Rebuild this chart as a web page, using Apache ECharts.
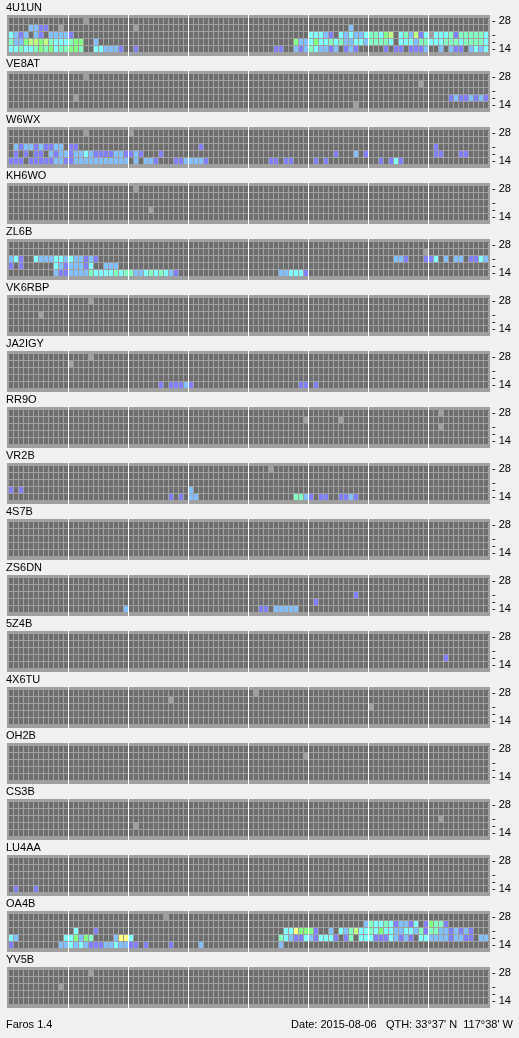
<!DOCTYPE html>
<html>
<head>
<meta charset="utf-8">
<title>Faros 1.4</title>
<script src="https://cdn.jsdelivr.net/npm/echarts@6/dist/echarts.min.js"></script>
<style>
html, body { margin: 0; padding: 0; background: #f0f0f0; }
#chart { width: 519px; height: 1038px; }
</style>
</head>
<body>
<div id="chart"></div>
<script>
// beacons, top to bottom
var stations = ['4U1UN', 'VE8AT', 'W6WX', 'KH6WO', 'ZL6B', 'VK6RBP', 'JA2IGY', 'RR9O', 'VR2B',
  '4S7B', 'ZS6DN', '5Z4B', '4X6TU', 'OH2B', 'CS3B', 'LU4AA', 'OA4B', 'YV5B'];
// band rows, top (28 MHz) to bottom (14 MHz)
// right-hand scale: "- 28" on the top row, "- 14" on the bottom row, plain dashes between
var numberRows = [0, 4];
var numberTexts = ['28', '14'];
var dashRows = [2, 3];
var hourMarks = [12, 24, 36, 48, 60, 72, 84];

// one entry per band row (28 .. 14), each a list of [first column, cells]
// '.' = nothing heard, 'x' = no data, '1'..'7' = signal level
var snr_4U1UN = [
  [[15, 'x']],
  [[4, '2211'], [10, 'x'], [25, 'x'], [68, '2']],
  [[0, '3212.21.22221'], [60, '33321.323223' + '44356.342613' + 'x33341444443']],
  [[0, '422566564333455..2'], [57, '522353343422332' + '44443.333244' + '333444344443']],
  [[0, '3343345453445' + '54' + '..332221..1'], [53, '11..212' + '432212.121..' + '...1.11.1112' + '..2.211.2323']]
];
var snr_VE8AT = [
  [[15, 'x']],
  [[82, 'x']],
  [],
  [[13, 'x'], [88, '12112121']],
  [[69, 'x']]
];
var snr_W6WX = [
  [[15, 'x'], [24, 'x']],
  [],
  [[1, '2122121122.11'], [38, '1'], [85, '1']],
  [[1, '1.1.11.2122' + '122321111221121' + '...1'], [65, '1...2.1'], [85, '11...11']],
  [[0, '111.11111221' + '122222222222' + '.2.221...1122221'], [52, '11.11'], [61, '1.1'], [74, '1.131']]
];
var snr_KH6WO = [
  [[25, 'x']],
  [],
  [],
  [[28, 'x']],
  []
];
var snr_ZL6B = [
  [],
  [[83, 'x']],
  [[0, '231..3222332' + '322121'], [77, '221...113.2.22.1132']],
  [[0, '1.1......321' + '22213..222']],
  [[9, '211' + '222243333434' + '4223434321'], [54, '223331']]
];
var snr_VK6RBP = [
  [[16, 'x']],
  [],
  [[6, 'x']],
  [],
  []
];
var snr_JA2IGY = [
  [[16, 'x']],
  [[12, 'x']],
  [],
  [],
  [[30, '1.11121'], [58, '11.1']]
];
var snr_RR9O = [
  [[86, 'x']],
  [[59, 'x'], [66, 'x']],
  [[86, 'x']],
  [],
  []
];
var snr_VR2B = [
  [[52, 'x']],
  [],
  [],
  [[0, '1.1'], [36, '2']],
  [[32, '1.1.22'], [57, '4421.11..1121']]
];
var snr_4S7B = [[], [], [], [], []];
var snr_ZS6DN = [
  [],
  [],
  [[69, '1']],
  [[61, '1']],
  [[23, '2'], [50, '11.22222']]
];
var snr_5Z4B = [[], [], [], [[87, '1']], []];
var snr_4X6TU = [
  [[49, 'x']],
  [[32, 'x']],
  [[72, 'x']],
  [],
  []
];
var snr_OH2B = [[], [[59, 'x']], [], [], []];
var snr_CS3B = [[], [], [[86, 'x']], [[25, 'x']], []];
var snr_LU4AA = [[], [], [], [], [[1, '1'], [5, '1']]];
var snr_OA4B = [
  [[31, 'x']],
  [[71, '24334312213.15441']],
  [[13, '3'], [17, '1'], [55, '3375551..2.324633' + '435332233241' + '442212121']],
  [[0, '32'], [11, '335254....2773'], [54, '432113213331.14.33' + '311132121.33' + '222212211.22']],
  [[0, '1'], [10, '22' + '323211122322' + '11.1'], [32, '1'], [38, '2'], [54, '2']]
];
var snr_YV5B = [[[16, 'x']], [], [[10, 'x']], [], []];

var allRows = [snr_4U1UN, snr_VE8AT, snr_W6WX, snr_KH6WO, snr_ZL6B, snr_VK6RBP, snr_JA2IGY,
  snr_RR9O, snr_VR2B, snr_4S7B, snr_ZS6DN, snr_5Z4B, snr_4X6TU, snr_OH2B, snr_CS3B,
  snr_LU4AA, snr_OA4B, snr_YV5B];

var NCOLS = 96;
// index 0 empty, 1..7 levels, 8 no data
var levelColors = ['#6e6e6e', '#8080ff', '#80c0ff', '#80ffff', '#80ffc0', '#80ff80', '#c0ff80', '#ffff80', '#a0a0a0'];
var FONT = 'Liberation Sans, Arial, sans-serif';

function cellsFor(rows) {
  var out = [];
  rows.forEach(function (runs, r) {
    var line = [];
    for (var c = 0; c < NCOLS; c++) line.push(0);
    runs.forEach(function (run) {
      for (var k = 0; k < run[1].length; k++) {
        var ch = run[1][k];
        var col = run[0] + k;
        if (col >= NCOLS || ch === '.') continue;
        line[col] = ch === 'x' ? 8 : +ch;
      }
    });
    line.forEach(function (lv, c) { out.push([c, r, lv]); });
  });
  return out;
}

function renderCell(params, api) {
  var p = api.coord([api.value(0), api.value(1)]);
  var s = api.size([1, 1]);
  return {
    type: 'rect',
    shape: { x: p[0] - (s[0] - 1) / 2, y: p[1] - (s[1] - 1) / 2, width: s[0] - 1, height: s[1] - 1 },
    style: { fill: levelColors[api.value(2)] }
  };
}

function renderMark(params, api) {
  var cs = params.coordSys;
  var x = api.coord([api.value(0), 0])[0];
  return {
    type: 'line',
    shape: { x1: x, y1: cs.y, x2: x, y2: cs.y + cs.height },
    style: { stroke: '#ffffff', lineWidth: 1 }
  };
}

// a right-hand band scale; several are stacked on one grid so close labels are not dropped
function bandAxis(gridIndex, values, fmt) {
  return {
    type: 'value', gridIndex: gridIndex, min: -6 / 7, max: 5, inverse: true, position: 'right', offset: 0,
    axisLine: { show: false },
    splitLine: { show: false },
    axisTick: { show: false },
    axisLabel: {
      customValues: values, margin: 2, color: '#000', fontSize: 11, fontFamily: FONT,
      showMinLabel: true, showMaxLabel: true, formatter: fmt
    }
  };
}

var grids = [], xAxes = [], yAxes = [], series = [], titles = [];
stations.forEach(function (name, i) {
  var top = 15 + 56 * i;
  grids.push({ left: 7, top: top, width: 483, height: 41, show: true, backgroundColor: '#a0a0a0', borderWidth: 0 });
  xAxes.push({ type: 'value', gridIndex: i, min: -0.8, max: 95.8, show: false });
  var yIndex = yAxes.length;
  yAxes.push(bandAxis(i, numberRows, function (v) { return '- ' + numberTexts[numberRows.indexOf(v)]; }));
  dashRows.forEach(function (r) {
    yAxes.push(bandAxis(i, [r], function () { return '-'; }));
  });
  titles.push({
    text: name, left: 6, top: 56 * i + 2, padding: 0,
    textStyle: { fontSize: 11, fontWeight: 'normal', fontFamily: FONT, color: '#000' }
  });
  series.push({
    type: 'custom', xAxisIndex: i, yAxisIndex: yIndex, silent: true,
    data: cellsFor(allRows[i]), renderItem: renderCell
  });
  series.push({
    type: 'custom', xAxisIndex: i, yAxisIndex: yIndex, silent: true,
    data: hourMarks.map(function (h) { return [h - 0.5, 0]; }), renderItem: renderMark
  });
});

var chart = echarts.init(document.getElementById('chart'));
chart.setOption({
  backgroundColor: '#f0f0f0',
  animation: false,
  title: titles,
  grid: grids,
  xAxis: xAxes,
  yAxis: yAxes,
  series: series,
  graphic: [
    { type: 'text', left: 6, top: 1019, style: { text: 'Faros 1.4', font: '11px ' + FONT, fill: '#000' } },
    { type: 'text', right: 6, top: 1019, style: { text: "Date: 2015-08-06   QTH: 33\u00b037' N  117\u00b038' W", font: '11px ' + FONT, fill: '#000' } }
  ]
});
</script>
</body>
</html>
